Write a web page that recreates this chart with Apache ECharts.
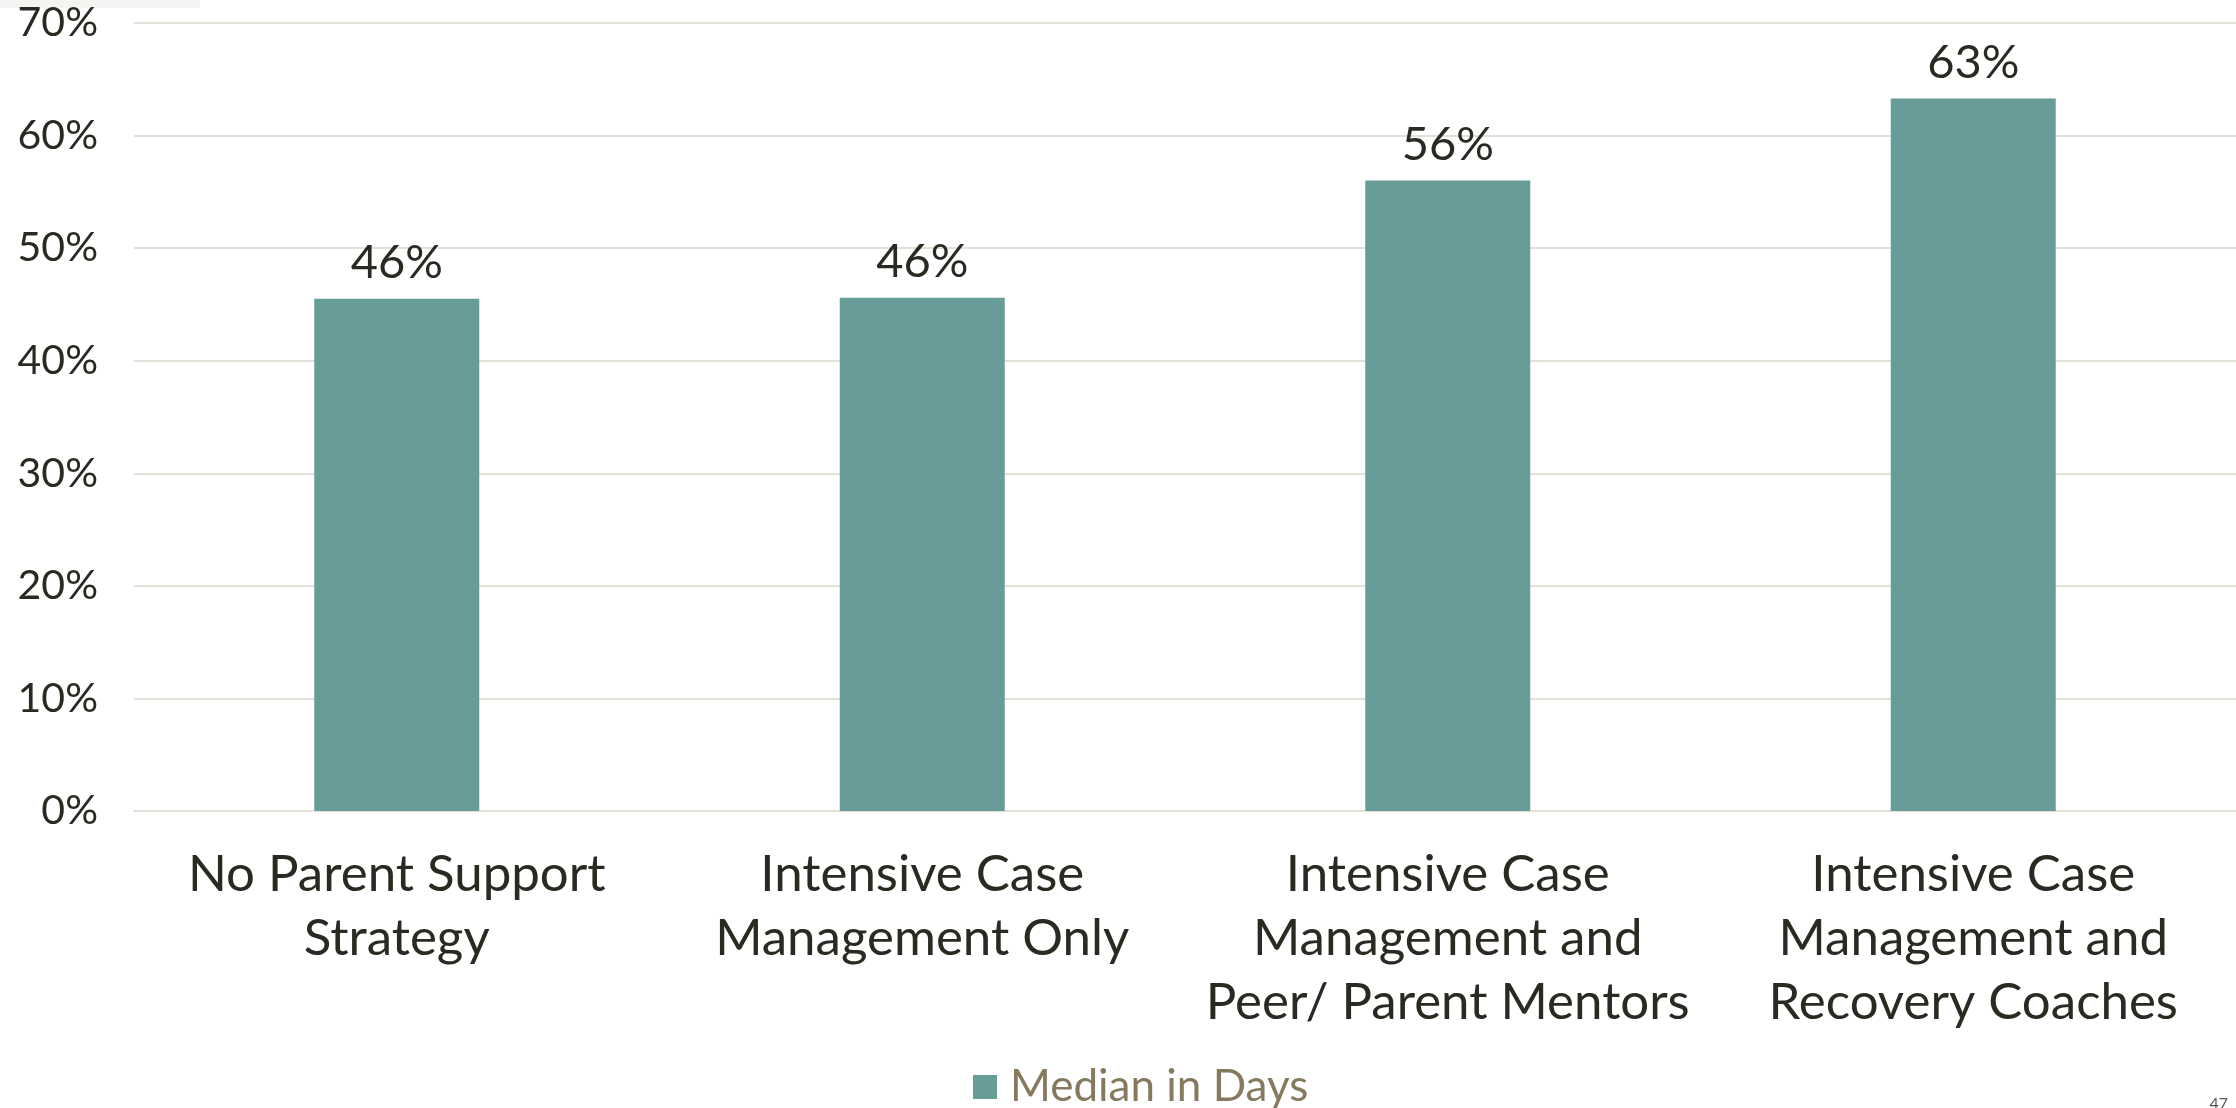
<!DOCTYPE html>
<html>
<head>
<meta charset="utf-8">
<title>Median in Days</title>
<script src="https://cdn.jsdelivr.net/npm/echarts@6/dist/echarts.min.js"></script>
<style>
  html, body { margin: 0; padding: 0; background: #fff; }
  #container { width: 2236px; height: 1108px; }
</style>
</head>
<body>
<div id="container"></div>
<script>
  // data
  var categories = [
    'No Parent Support\nStrategy',
    'Intensive Case\nManagement Only',
    'Intensive Case\nManagement and\nPeer/ Parent Mentors',
    'Intensive Case\nManagement and\nRecovery Coaches'
  ];
  var medianValues = [45.5, 45.6, 56.0, 63.3];
  var seriesName = 'Median in Days';
  var yTicks = [0, 10, 20, 30, 40, 50, 60, 70];

  var fontFam = 'Lato, "Noto Sans", sans-serif';
  var textColor = '#2b2a22';

  var myChart = echarts.init(document.getElementById('container'), null, { renderer: 'canvas' });

  var option = {
    backgroundColor: '#ffffff',
    animation: false,
    grid: { left: 134, right: 0, top: 23, bottom: 297 },
    legend: {
      data: [seriesName],
      bottom: -6,
      left: 968,
      itemWidth: 24,
      itemHeight: 24,
      itemGap: 10,
      icon: 'rect',
      textStyle: { fontFamily: fontFam, fontSize: 44, color: '#857a5e', padding: [0, 0, 0, 8] }
    },
    xAxis: {
      type: 'category',
      data: categories,
      axisLine: { show: true, lineStyle: { color: '#e3e0d8', width: 2 } },
      axisTick: { show: false },
      axisLabel: {
        interval: 0,
        margin: 32,
        fontFamily: fontFam,
        fontSize: 51,
        lineHeight: 64,
        color: textColor
      }
    },
    yAxis: {
      type: 'value',
      min: yTicks[0],
      max: yTicks[yTicks.length - 1],
      interval: 10,
      axisLine: { show: false },
      axisTick: { show: false },
      splitLine: { lineStyle: { color: '#e3e0d8', width: 2 } },
      axisLabel: {
        margin: 36,
        fontFamily: fontFam,
        fontSize: 41,
        color: textColor,
        formatter: '{value}%'
      }
    },
    series: [{
      name: seriesName,
      type: 'bar',
      data: medianValues,
      barWidth: '31.4%',
      itemStyle: { color: '#679c99' },
      label: {
        show: true,
        position: 'top',
        distance: 12,
        fontFamily: fontFam,
        fontSize: 47,
        color: textColor,
        formatter: function (p) { return Math.round(p.value) + '%'; }
      }
    }],
    graphic: [
      { type: 'rect', left: 0, top: 0, shape: { width: 200, height: 8 }, style: { fill: '#f4f4f2' } },
      { type: 'text', right: 8, bottom: -4, style: { text: '47', fontFamily: fontFam, fontSize: 16, fill: '#555' } }
    ]
  };

  myChart.setOption(option);
  window.addEventListener('resize', function () { myChart.resize(); });
</script>
</body>
</html>
